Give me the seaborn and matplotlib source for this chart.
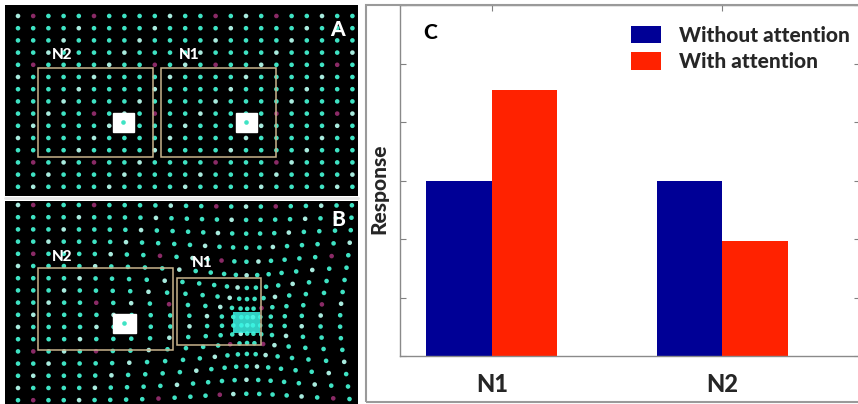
import numpy as np
import pandas as pd
import matplotlib
matplotlib.use("Agg")
import matplotlib.pyplot as plt
import matplotlib.patches as mpatches
import seaborn as sns

# ---------------- data ----------------
neurons = ["N1", "N2"]
conditions = ["Without attention", "With attention"]
without_attention = [3.0, 3.0]
with_attention = [4.55, 1.96]
bar_colors = ["#000096", "#ff2200"]

# lattice illustration parameters (panels A and B)
lattice_dx = 15.2
lattice_dy = 12.2

sns.set_theme(style="white")
plt.rcParams["font.family"] = ["Lato", "DejaVu Sans"]
BOLD = "black"

W, H = 858, 404
fig = plt.figure(figsize=(W / 100, H / 100), dpi=100)
fig.patch.set_facecolor("white")


def px_axes(x0, y0, x1, y1):
    return fig.add_axes([x0 / W, 1 - y1 / H, (x1 - x0) / W, (y1 - y0) / H])


def lattice(w, h, x0, y0):
    xs = np.arange(x0, w + 5, lattice_dx)
    ys = np.arange(y0, h + 5, lattice_dy)
    X, Y = np.meshgrid(xs, ys)
    ci, ri = np.meshgrid(np.arange(len(xs)), np.arange(len(ys)))
    return X.ravel(), Y.ravel(), ci.ravel(), ri.ravel()


def dot_colors(ci, ri):
    cols = np.array(["#3fe3c4"] * len(ci), dtype=object)
    cols[((ci + ri) % 5 == 0)] = "#a8ebde"
    cols[(ci % 4 == 1) & (ri % 4 == 0) & ((ci + ri) % 3 != 0)] = "#8a2a66"
    return list(cols)


def style_img_ax(ax, w, h):
    ax.set_facecolor("black")
    ax.set_xlim(0, w)
    ax.set_ylim(h, 0)
    ax.set_xticks([])
    ax.set_yticks([])
    for s in ax.spines.values():
        s.set_visible(False)


box_kw = dict(fill=False, edgecolor="#c8b48c", linewidth=1.1)
lab_kw = dict(color="white", fontsize=11, fontweight=BOLD, ha="center", va="center")

# ---------------- panel A ----------------
axA = px_axes(5, 5, 358, 196)
wA, hA = 353, 191
style_img_ax(axA, wA, hA)
X, Y, ci, ri = lattice(wA, hA, 13, 11)
axA.scatter(X, Y, s=11, c=dot_colors(ci, ri), linewidths=0, zorder=2)
axA.add_patch(mpatches.Rectangle((33, 63), 115, 89, **box_kw, zorder=3))
axA.add_patch(mpatches.Rectangle((156, 63), 115, 89, **box_kw, zorder=3))
axA.add_patch(mpatches.Rectangle((108, 108), 21, 19, color="white", zorder=4))
axA.add_patch(mpatches.Rectangle((231, 108), 21, 19, color="white", zorder=4))
axA.scatter([118, 241], [117, 117], s=11, c="#3fe3c4", zorder=5, linewidths=0)
axA.text(57, 50, "N2", **lab_kw)
axA.text(184, 50, "N1", **lab_kw)
axA.text(332, 24, "A", color="white", fontsize=15, fontweight=BOLD, ha="center", va="center")

# ---------------- panel B ----------------
axB = px_axes(5, 201, 358, 404)
wB, hB = 353, 203
style_img_ax(axB, wB, hB)
X, Y, ci, ri = lattice(wB, hB, 13, 4)
fx, fy = 243, 121
dx, dy = X - fx, Y - fy
env = np.exp(-((dx / 80) ** 2 + (dy / 65) ** 2))
Xw = fx + dx * (1 - 0.65 * env)
Yw = fy + dy * (1 - 0.35 * env)
axB.scatter(Xw, Yw, s=11, c=dot_colors(ci, ri), linewidths=0, zorder=2)
axB.add_patch(mpatches.Rectangle((228, 111), 27, 21, color="#3af5e6", alpha=0.85, zorder=3, linewidth=0))
axB.add_patch(mpatches.Rectangle((33, 67), 135, 82, **box_kw, zorder=3))
axB.add_patch(mpatches.Rectangle((172, 77), 84, 67, **box_kw, zorder=3))
axB.add_patch(mpatches.Rectangle((108, 113), 23, 19, color="white", zorder=4))
axB.scatter([119], [122], s=11, c="#3fe3c4", zorder=5, linewidths=0)
axB.text(57, 56, "N2", **lab_kw)
axB.text(197, 62, "N1", **lab_kw)
axB.text(333, 18, "B", color="white", fontsize=15, fontweight=BOLD, ha="center", va="center")

# separator line between A and B
fig.add_artist(plt.Line2D([5 / W, 358 / W], [1 - 198 / H, 1 - 198 / H],
                          color="#e6e6e6", linewidth=2, transform=fig.transFigure))

# ---------------- panel C ----------------
fig.add_artist(mpatches.Rectangle((366 / W, 1 - 402 / H), (862 - 366) / W, (402 - 5) / H,
                                  fill=False, edgecolor="#9a9a9a", linewidth=1.5,
                                  transform=fig.transFigure))

axC = px_axes(400, 5, 860, 356)
df = pd.DataFrame({
    "neuron": neurons * 2,
    "condition": [conditions[0]] * 2 + [conditions[1]] * 2,
    "response": without_attention + with_attention,
})
sns.barplot(data=df, x="neuron", y="response", hue="condition", hue_order=conditions,
            palette=bar_colors, width=0.57, saturation=1, ax=axC, errorbar=None,
            linewidth=0, edgecolor="none")
axC.set_xlim(-0.398, 1.597)
axC.set_ylim(0, 6)
axC.set_yticks(range(7))
axC.set_yticklabels([])
axC.tick_params(axis="both", direction="in", length=4, width=0.8, color="#808080",
                left=True, right=True, top=True, bottom=True)
axC.tick_params(axis="x", pad=12, labelsize=17)
for lab in axC.get_xticklabels():
    lab.set_fontweight(BOLD)
for s in axC.spines.values():
    s.set_color("#8a8a8a")
    s.set_linewidth(1.0)
axC.set_xlabel("")
axC.set_ylabel("Response", fontsize=15, fontweight=BOLD)
axC.yaxis.set_label_coords(-0.026, 0.476)
axC.text(23 / 460, 0.923, "C", transform=axC.transAxes, fontsize=15, fontweight=BOLD,
         ha="left", va="center", color="black")

handles, labels = axC.get_legend_handles_labels()
leg = axC.legend(handles, labels, loc="upper left", bbox_to_anchor=(231 / 460, (356 - 26) / 351),
                 frameon=False, prop={"weight": BOLD, "size": 15},
                 handlelength=1.45, handleheight=0.9, handletextpad=0.85,
                 labelspacing=0.35, borderpad=0, borderaxespad=0)

fig.savefig("out.png", dpi=100, facecolor="white")
